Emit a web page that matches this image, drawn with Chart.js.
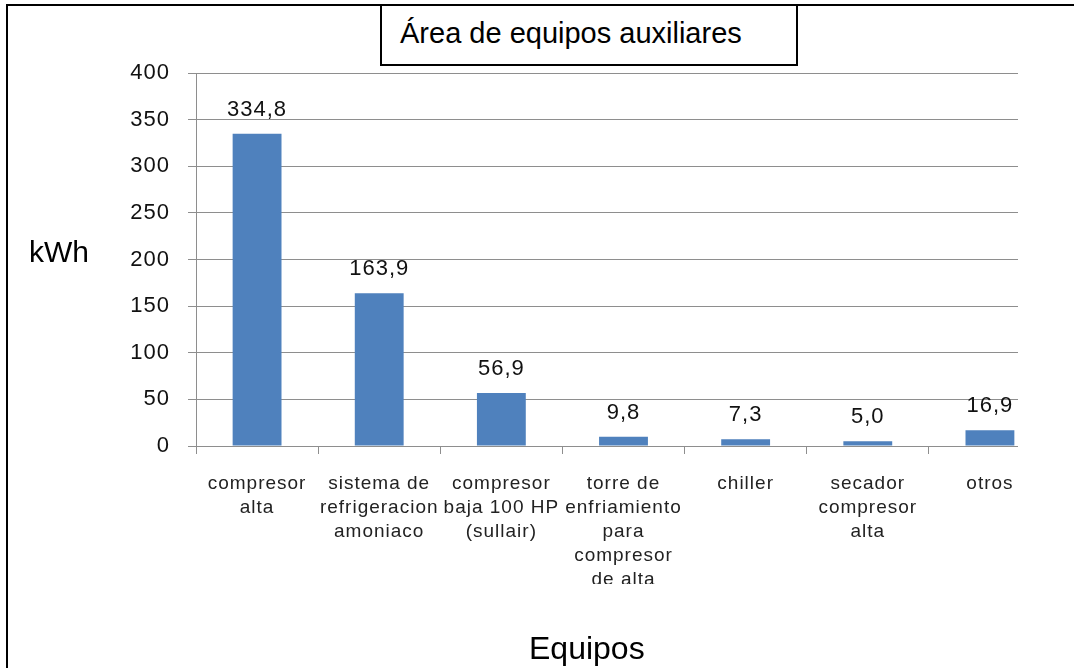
<!DOCTYPE html>
<html>
<head>
<meta charset="utf-8">
<script src="https://cdn.jsdelivr.net/npm/chart.js@4.4.0/dist/chart.umd.min.js"></script>
<style>
  body { margin: 0; width: 1074px; height: 668px; overflow: hidden; position: relative; background: #fff;
         font-family: "Liberation Sans", Arial, sans-serif; color: #000; }
  #clip { position: absolute; left: 0; top: 0; width: 1018px; height: 584px; overflow: hidden; }
  #frame { position: absolute; left: 6px; top: 4px; width: 1200px; height: 800px;
           border-left: 2px solid #000; border-top: 2px solid #000; }
  #titleBox { position: absolute; left: 380px; top: 4px; width: 418px; height: 62px; box-sizing: border-box;
              border: 2px solid #000; background: #fff; }
  #titleBox span { position: absolute; left: 18px; top: 13px; font-size: 29px; line-height: 29px; white-space: nowrap; }
  .axisTitle { position: absolute; line-height: 1; white-space: nowrap; }
  #yTitle { left: 29px; top: 237px; font-size: 30px; }
  #xTitle { left: 529px; top: 632px; font-size: 32px; }
</style>
</head>
<body>
<div id="clip"><canvas id="chart" width="1074" height="668"></canvas></div>
<div id="frame"></div>
<div id="titleBox"><span>Área de equipos auxiliares</span></div>
<div class="axisTitle" id="yTitle">kWh</div>
<div class="axisTitle" id="xTitle">Equipos</div>
<script>
// Chart data
const categories = [
    ['compresor', 'alta'],
    ['sistema de', 'refrigeracion', 'amoniaco'],
    ['compresor', 'baja 100 HP', '(sullair)'],
    ['torre de', 'enfriamiento', 'para', 'compresor', 'de alta'],
    ['chiller'],
    ['secador', 'compresor', 'alta'],
    ['otros']
];
const consumo = [334.8, 163.9, 56.9, 9.8, 7.3, 5.0, 16.9];
const yMin = 0;
const yMax = 400;
const yStep = 50;

const barColor = '#4F81BD';
const gridColor = '#8e8e8e';
const fontFamily = '"Liberation Sans", Arial, sans-serif';

// Excel style spacing of canvas text
const spacingPlugin = {
    id: 'spacing',
    beforeDraw(chart) {
        chart.ctx.letterSpacing = '1px';
    }
};

// Value labels above each bar, with decimal comma
const valueLabels = {
    id: 'valueLabels',
    afterDatasetsDraw(chart) {
        const ctx = chart.ctx;
        const meta = chart.getDatasetMeta(0);
        ctx.save();
        ctx.letterSpacing = '1px';
        ctx.font = '22px ' + fontFamily;
        ctx.fillStyle = '#111';
        ctx.textAlign = 'center';
        ctx.textBaseline = 'alphabetic';
        meta.data.forEach((bar, i) => {
            const text = consumo[i].toFixed(1).replace('.', ',');
            ctx.fillText(text, bar.x, bar.y - 18);
        });
        ctx.restore();
    }
};

new Chart(document.getElementById('chart'), {
    type: 'bar',
    data: {
        labels: categories,
        datasets: [{
            data: consumo,
            backgroundColor: barColor,
            borderWidth: 0,
            barPercentage: 0.4,
            categoryPercentage: 1
        }]
    },
    options: {
        responsive: false,
        animation: false,
        layout: { padding: { top: 73, right: 23, left: 0, bottom: 0 } },
        plugins: {
            legend: { display: false },
            tooltip: { enabled: false }
        },
        scales: {
            x: {
                grid: { drawOnChartArea: false, drawTicks: true, tickLength: 8, color: gridColor, offset: true },
                border: { color: gridColor },
                ticks: {
                    autoSkip: false, maxRotation: 0, minRotation: 0, padding: 18,
                    color: '#222',
                    font: { family: fontFamily, size: 19, lineHeight: '24px' }
                },
                afterFit(scale) { scale.height = 222; }
            },
            y: {
                min: yMin,
                max: yMax,
                ticks: {
                    stepSize: yStep, padding: 18, color: '#111',
                    font: { family: fontFamily, size: 22 }
                },
                grid: { color: gridColor, tickLength: 8 },
                border: { color: gridColor },
                afterFit(scale) { scale.width = 196; }
            }
        }
    },
    plugins: [spacingPlugin, valueLabels]
});
</script>
</body>
</html>
